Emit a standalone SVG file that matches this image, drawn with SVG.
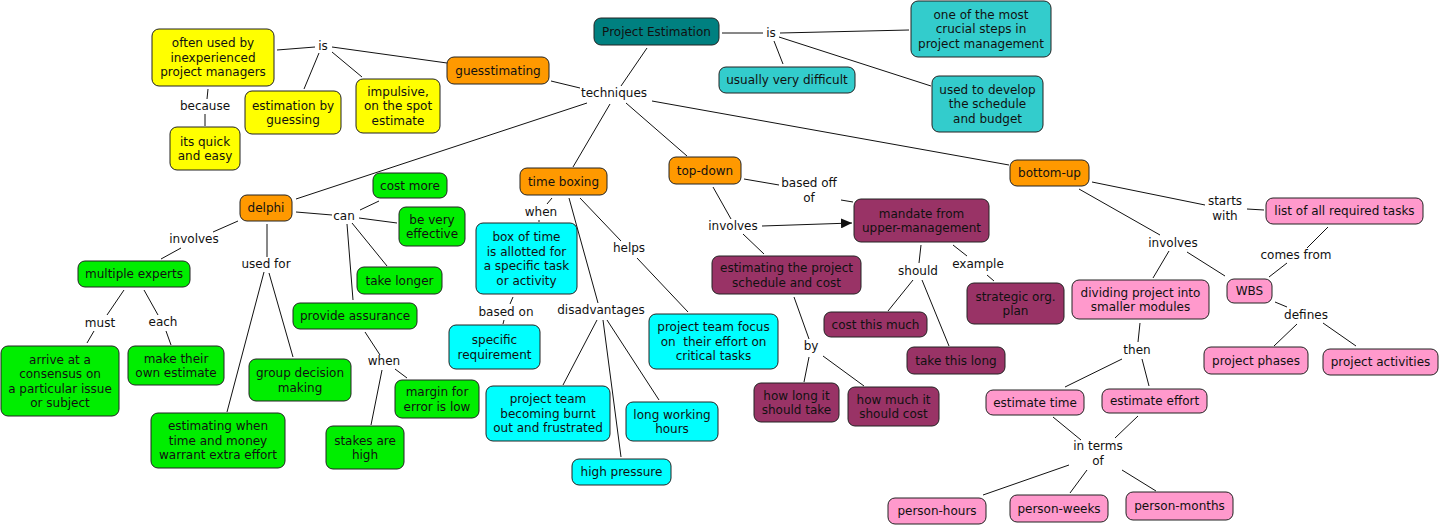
<svg xmlns="http://www.w3.org/2000/svg" width="1442" height="527" viewBox="0 0 1442 527">
<style>
.n rect{stroke:#222;stroke-width:1}
text{font-family:"DejaVu Sans",Verdana,sans-serif;font-size:12px;text-anchor:middle;fill:#111}
.teal rect{fill:#008080}
.lt rect{fill:#33CCCC}
.or rect{fill:#FF9900}
.ye rect{fill:#FFFF00}
.gr rect{fill:#00EE00}
.cy rect{fill:#00FFFF}
.pu rect{fill:#993366}
.pk rect{fill:#FF99CC}
#connectors line{stroke:#111;stroke-width:1}
</style>
<defs>
<marker id="arr" viewBox="0 0 11 10" refX="11" refY="5" markerWidth="11" markerHeight="10" markerUnits="userSpaceOnUse" orient="auto">
<path d="M0,0 L11,5 L0,10 z" fill="#111"/>
</marker>
</defs>
<rect width="1442" height="527" fill="#fff"/>
<g id="connectors">
<line x1="277" y1="50" x2="315" y2="47"/>
<line x1="332" y1="47" x2="447" y2="63"/>
<line x1="319" y1="53" x2="304" y2="89"/>
<line x1="332" y1="52" x2="362" y2="77"/>
<line x1="208" y1="89" x2="207" y2="99"/>
<line x1="205" y1="114" x2="205" y2="126"/>
<line x1="722" y1="33" x2="763" y2="33"/>
<line x1="780" y1="33" x2="909" y2="30"/>
<line x1="774" y1="41" x2="783" y2="64"/>
<line x1="779" y1="37" x2="931" y2="86"/>
<line x1="647" y1="48" x2="621" y2="86"/>
<line x1="551" y1="81" x2="580" y2="88"/>
<line x1="587" y1="103" x2="296" y2="199"/>
<line x1="610" y1="104" x2="573" y2="167"/>
<line x1="626" y1="103" x2="687" y2="156"/>
<line x1="652" y1="101" x2="1009" y2="165"/>
<line x1="744" y1="179" x2="779" y2="185"/>
<line x1="841" y1="200" x2="853" y2="202"/>
<line x1="713" y1="187" x2="731" y2="219"/>
<line x1="762" y1="226" x2="852" y2="223" marker-end="url(#arr)"/>
<line x1="743" y1="234" x2="764" y2="254"/>
<line x1="921" y1="245" x2="919" y2="263"/>
<line x1="913" y1="280" x2="888" y2="311"/>
<line x1="922" y1="280" x2="949" y2="346"/>
<line x1="953" y1="245" x2="967" y2="256"/>
<line x1="987" y1="275" x2="994" y2="281"/>
<line x1="794" y1="297" x2="809" y2="339"/>
<line x1="809" y1="357" x2="804" y2="382"/>
<line x1="823" y1="356" x2="864" y2="386"/>
<line x1="552" y1="198" x2="547" y2="204"/>
<line x1="539" y1="220" x2="539" y2="222"/>
<line x1="513" y1="297" x2="510" y2="304"/>
<line x1="504" y1="320" x2="503" y2="324"/>
<line x1="569" y1="198" x2="598" y2="303"/>
<line x1="580" y1="198" x2="621" y2="241"/>
<line x1="637" y1="258" x2="688" y2="312"/>
<line x1="597" y1="320" x2="563" y2="385"/>
<line x1="603" y1="320" x2="621" y2="457"/>
<line x1="607" y1="320" x2="659" y2="400"/>
<line x1="296" y1="212" x2="332" y2="215"/>
<line x1="359" y1="218" x2="397" y2="223"/>
<line x1="360" y1="210" x2="379" y2="201"/>
<line x1="352" y1="223" x2="387" y2="266"/>
<line x1="347" y1="224" x2="353" y2="300"/>
<line x1="238" y1="221" x2="213" y2="232"/>
<line x1="181" y1="248" x2="161" y2="259"/>
<line x1="267" y1="224" x2="267" y2="257"/>
<line x1="269" y1="273" x2="293" y2="357"/>
<line x1="264" y1="272" x2="227" y2="412"/>
<line x1="365" y1="332" x2="380" y2="355"/>
<line x1="395" y1="369" x2="407" y2="378"/>
<line x1="382" y1="370" x2="371" y2="425"/>
<line x1="124" y1="290" x2="107" y2="315"/>
<line x1="94" y1="331" x2="87" y2="343"/>
<line x1="144" y1="290" x2="158" y2="315"/>
<line x1="166" y1="331" x2="171" y2="345"/>
<line x1="1092" y1="182" x2="1205" y2="205"/>
<line x1="1247" y1="209" x2="1264" y2="210"/>
<line x1="1079" y1="189" x2="1160" y2="235"/>
<line x1="1169" y1="251" x2="1153" y2="278"/>
<line x1="1187" y1="252" x2="1225" y2="276"/>
<line x1="1328" y1="227" x2="1307" y2="248"/>
<line x1="1287" y1="263" x2="1269" y2="277"/>
<line x1="1275" y1="302" x2="1287" y2="307"/>
<line x1="1297" y1="324" x2="1274" y2="346"/>
<line x1="1323" y1="323" x2="1356" y2="346"/>
<line x1="1140" y1="323" x2="1138" y2="342"/>
<line x1="1122" y1="359" x2="1065" y2="387"/>
<line x1="1142" y1="359" x2="1149" y2="386"/>
<line x1="1053" y1="417" x2="1081" y2="440"/>
<line x1="1138" y1="416" x2="1115" y2="438"/>
<line x1="1069" y1="465" x2="983" y2="495"/>
<line x1="1087" y1="470" x2="1070" y2="493"/>
<line x1="1122" y1="470" x2="1156" y2="491"/>
<text x="323" y="50">is</text>
<text x="205" y="110">because</text>
<text x="771" y="37">is</text>
<text x="614" y="97">techniques</text>
<text x="344" y="220">can</text>
<text x="194" y="243">involves</text>
<text x="266" y="268">used for</text>
<text x="100" y="327">must</text>
<text x="163" y="326">each</text>
<text x="384" y="365">when</text>
<text x="541" y="216">when</text>
<text x="506" y="316">based on</text>
<text x="601" y="314">disadvantages</text>
<text x="629" y="252">helps</text>
<text x="809" y="187">based off<tspan x="809" dy="14.5">of</tspan></text>
<text x="733" y="230">involves</text>
<text x="918" y="275">should</text>
<text x="978" y="268">example</text>
<text x="811" y="350">by</text>
<text x="1225" y="205">starts<tspan x="1225" dy="14.5">with</tspan></text>
<text x="1173" y="247">involves</text>
<text x="1296" y="259">comes from</text>
<text x="1306" y="319">defines</text>
<text x="1137" y="354">then</text>
<text x="1098" y="450">in terms<tspan x="1098" dy="14.5">of</tspan></text>
</g>
<g id="pe" class="n teal"><rect x="594" y="18" width="125" height="27" rx="7"/><text x="656.5" y="35.8">Project Estimation</text></g>
<g id="crucial" class="n lt"><rect x="911" y="1" width="140" height="56" rx="7"/><text x="981" y="18.8">one of the most<tspan x="981" dy="14.5">crucial steps in</tspan><tspan x="981" dy="14.5">project management</tspan></text></g>
<g id="difficult" class="n lt"><rect x="719" y="67" width="136" height="26" rx="7"/><text x="787" y="84.3">usually very difficult</text></g>
<g id="develop" class="n lt"><rect x="932" y="76" width="111" height="56" rx="7"/><text x="987.5" y="93.8">used to develop<tspan x="987.5" dy="14.5">the schedule</tspan><tspan x="987.5" dy="14.5">and budget</tspan></text></g>
<g id="guess" class="n or"><rect x="447" y="57" width="102" height="27" rx="7"/><text x="498" y="74.8">guesstimating</text></g>
<g id="often" class="n ye"><rect x="152" y="29" width="122" height="57" rx="7"/><text x="213" y="47.3">often used by<tspan x="213" dy="14.5">inexperienced</tspan><tspan x="213" dy="14.5">project managers</tspan></text></g>
<g id="byguess" class="n ye"><rect x="245" y="91" width="96" height="43" rx="7"/><text x="293" y="109.6">estimation by<tspan x="293" dy="14.5">guessing</tspan></text></g>
<g id="impulsive" class="n ye"><rect x="356" y="79" width="84" height="54" rx="7"/><text x="398" y="95.8">impulsive,<tspan x="398" dy="14.5">on the spot</tspan><tspan x="398" dy="14.5">estimate</tspan></text></g>
<g id="quick" class="n ye"><rect x="170" y="127" width="70" height="43" rx="7"/><text x="205" y="145.6">its quick<tspan x="205" dy="14.5">and easy</tspan></text></g>
<g id="delphi" class="n or"><rect x="240" y="195" width="52" height="26" rx="7"/><text x="266" y="212.3">delphi</text></g>
<g id="costmore" class="n gr"><rect x="373" y="173" width="74" height="25" rx="7"/><text x="410" y="189.8">cost more</text></g>
<g id="effective" class="n gr"><rect x="399" y="207" width="66" height="39" rx="7"/><text x="432" y="223.6">be very<tspan x="432" dy="14.5">effective</tspan></text></g>
<g id="longer" class="n gr"><rect x="357" y="267" width="85" height="27" rx="7"/><text x="399.5" y="284.8">take longer</text></g>
<g id="assurance" class="n gr"><rect x="293" y="303" width="124" height="26" rx="7"/><text x="355" y="320.3">provide assurance</text></g>
<g id="experts" class="n gr"><rect x="78" y="261" width="112" height="26" rx="7"/><text x="134" y="278.3">multiple experts</text></g>
<g id="consensus" class="n gr"><rect x="1" y="346" width="118" height="70" rx="7"/><text x="60" y="363.6">arrive at a<tspan x="60" dy="14.5">consensus on</tspan><tspan x="60" dy="14.5">a particular issue</tspan><tspan x="60" dy="14.5">or subject</tspan></text></g>
<g id="own" class="n gr"><rect x="128" y="346" width="96" height="39" rx="7"/><text x="176" y="362.6">make their<tspan x="176" dy="14.5">own estimate</tspan></text></g>
<g id="group" class="n gr"><rect x="249" y="359" width="102" height="42" rx="7"/><text x="300" y="377.1">group decision<tspan x="300" dy="14.5">making</tspan></text></g>
<g id="warrant" class="n gr"><rect x="151" y="413" width="134" height="55" rx="7"/><text x="218" y="430.3">estimating when<tspan x="218" dy="14.5">time and money</tspan><tspan x="218" dy="14.5">warrant extra effort</tspan></text></g>
<g id="stakes" class="n gr"><rect x="326" y="426" width="78" height="43" rx="7"/><text x="365" y="444.6">stakes are<tspan x="365" dy="14.5">high</tspan></text></g>
<g id="margin" class="n gr"><rect x="395" y="380" width="84" height="38" rx="7"/><text x="437" y="396.1">margin for<tspan x="437" dy="14.5">error is low</tspan></text></g>
<g id="timebox" class="n or"><rect x="520" y="168" width="87" height="27" rx="7"/><text x="563.5" y="185.8">time boxing</text></g>
<g id="boxoftime" class="n cy"><rect x="476" y="223" width="101" height="71" rx="7"/><text x="526.5" y="241.1">box of time<tspan x="526.5" dy="14.5">is allotted for</tspan><tspan x="526.5" dy="14.5">a specific task</tspan><tspan x="526.5" dy="14.5">or activity</tspan></text></g>
<g id="specific" class="n cy"><rect x="449" y="325" width="91" height="44" rx="7"/><text x="494.5" y="344.1">specific<tspan x="494.5" dy="14.5">requirement</tspan></text></g>
<g id="focus" class="n cy"><rect x="649" y="314" width="129" height="55" rx="7"/><text x="713.5" y="331.3">project team focus<tspan x="713.5" dy="14.5">on&#160; their effort on</tspan><tspan x="713.5" dy="14.5">critical tasks</tspan></text></g>
<g id="burnt" class="n cy"><rect x="486" y="386" width="124" height="55" rx="7"/><text x="548" y="403.3">project team<tspan x="548" dy="14.5">becoming burnt</tspan><tspan x="548" dy="14.5">out and frustrated</tspan></text></g>
<g id="working" class="n cy"><rect x="626" y="402" width="92" height="39" rx="7"/><text x="672" y="418.6">long working<tspan x="672" dy="14.5">hours</tspan></text></g>
<g id="pressure" class="n cy"><rect x="572" y="459" width="99" height="26" rx="7"/><text x="621.5" y="476.3">high pressure</text></g>
<g id="topdown" class="n or"><rect x="669" y="157" width="72" height="27" rx="7"/><text x="705" y="174.8">top-down</text></g>
<g id="mandate" class="n pu"><rect x="854" y="199" width="135" height="43" rx="7"/><text x="921.5" y="217.6">mandate from<tspan x="921.5" dy="14.5">upper-management</tspan></text></g>
<g id="estsched" class="n pu"><rect x="712" y="256" width="149" height="38" rx="7"/><text x="786.5" y="272.1">estimating the project<tspan x="786.5" dy="14.5">schedule and cost</tspan></text></g>
<g id="costmuch" class="n pu"><rect x="824" y="312" width="103" height="25" rx="7"/><text x="875.5" y="328.8">cost this much</text></g>
<g id="takelong" class="n pu"><rect x="907" y="347" width="98" height="27" rx="7"/><text x="956" y="364.8">take this long</text></g>
<g id="strategic" class="n pu"><rect x="967" y="283" width="97" height="41" rx="7"/><text x="1015.5" y="300.6">strategic org.<tspan x="1015.5" dy="14.5">plan</tspan></text></g>
<g id="howlong" class="n pu"><rect x="754" y="383" width="85" height="39" rx="7"/><text x="796.5" y="399.6">how long it<tspan x="796.5" dy="14.5">should take</tspan></text></g>
<g id="howmuch" class="n pu"><rect x="848" y="387" width="91" height="39" rx="7"/><text x="893.5" y="403.6">how much it<tspan x="893.5" dy="14.5">should cost</tspan></text></g>
<g id="bottomup" class="n or"><rect x="1010" y="160" width="79" height="26" rx="7"/><text x="1049.5" y="177.3">bottom-up</text></g>
<g id="list" class="n pk"><rect x="1266" y="198" width="157" height="26" rx="7"/><text x="1344.5" y="215.3">list of all required tasks</text></g>
<g id="dividing" class="n pk"><rect x="1072" y="280" width="137" height="39" rx="7"/><text x="1140.5" y="296.6">dividing project into<tspan x="1140.5" dy="14.5">smaller modules</tspan></text></g>
<g id="wbs" class="n pk"><rect x="1227" y="279" width="45" height="24" rx="7"/><text x="1249.5" y="295.3">WBS</text></g>
<g id="phases" class="n pk"><rect x="1204" y="347" width="104" height="27" rx="7"/><text x="1256" y="364.8">project phases</text></g>
<g id="activities" class="n pk"><rect x="1323" y="349" width="115" height="26" rx="7"/><text x="1380.5" y="366.3">project activities</text></g>
<g id="esttime" class="n pk"><rect x="986" y="390" width="98" height="25" rx="7"/><text x="1035" y="406.8">estimate time</text></g>
<g id="esteffort" class="n pk"><rect x="1102" y="389" width="105" height="24" rx="7"/><text x="1154.5" y="405.3">estimate effort</text></g>
<g id="hours" class="n pk"><rect x="888" y="498" width="98" height="26" rx="7"/><text x="937" y="515.3">person-hours</text></g>
<g id="weeks" class="n pk"><rect x="1010" y="495" width="98" height="27" rx="7"/><text x="1059" y="512.8">person-weeks</text></g>
<g id="months" class="n pk"><rect x="1126" y="492" width="107" height="28" rx="7"/><text x="1179.5" y="510.3">person-months</text></g>
</svg>
